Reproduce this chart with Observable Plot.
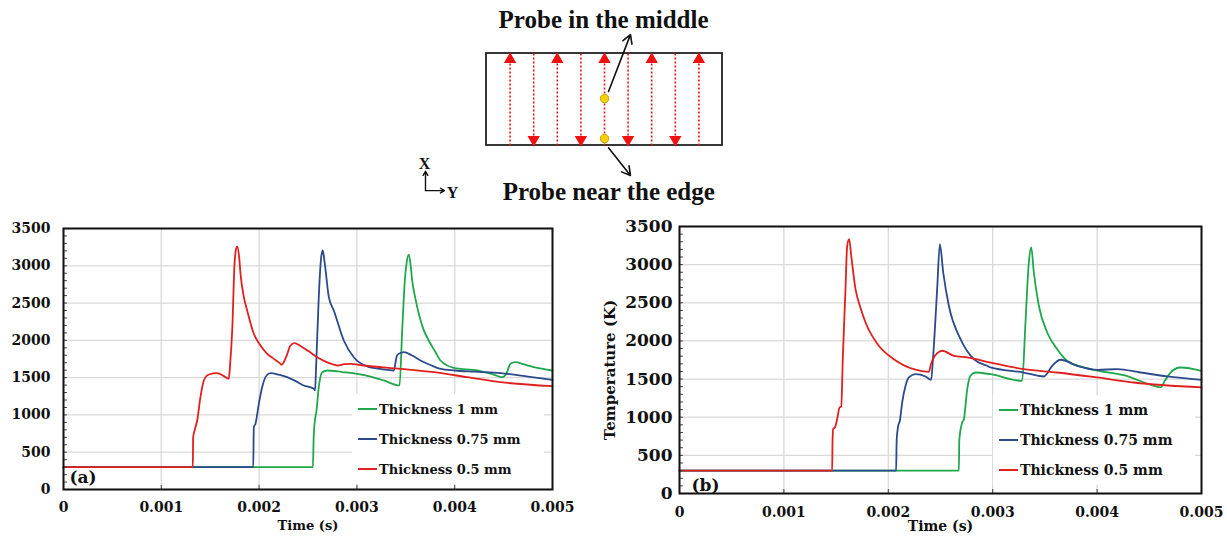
<!DOCTYPE html>
<html>
<head>
<meta charset="utf-8">
<script src="https://cdn.jsdelivr.net/npm/d3@7"></script>
<script src="https://cdn.jsdelivr.net/npm/@observablehq/plot@0.6"></script>
<style>
  html, body { margin: 0; padding: 0; background: #fff; }
  #root { position: relative; width: 1227px; height: 536px; overflow: hidden; background: #fff; }
  .legend { position: absolute; background: #fff; font-family: "DejaVu Serif", serif; font-weight: bold; color: #111; }
  .legend .row { display: flex; align-items: center; height: 30px; white-space: nowrap; }
  .legend .sw { display: inline-block; width: 19px; height: 2px; margin-right: 2px; }
</style>
</head>
<body>
<div id="root"></div>
<script>
// ---------------- data ----------------
const seriesNames  = ["Thickness 1 mm", "Thickness 0.75 mm", "Thickness 0.5 mm"];
const seriesColors = ["#1fa84b", "#2b4a8b", "#e0201f"];

const xTicks = [0, 0.001, 0.002, 0.003, 0.004, 0.005];
const xTickLabels = ["0", "0.001", "0.002", "0.003", "0.004", "0.005"];
const yTicks = [0, 500, 1000, 1500, 2000, 2500, 3000, 3500];
const yTickLabels = ["0", "500", "1000", "1500", "2000", "2500", "3000", "3500"];
const yMinorTicks = d3.range(0, 3501, 100);

// Panel (a): probe in the middle — time in ms, temperature in K
const aTime1 = [0, 2.550, 2.558, 2.567, 2.587, 2.610, 2.645, 2.696, 2.850, 3.003, 3.150, 3.275, 3.436, 3.463, 3.490, 3.507, 3.531, 3.550, 3.565, 3.600, 3.633, 3.680, 3.735, 3.800, 3.855, 3.990, 4.230, 4.400, 4.486, 4.530, 4.570, 4.622, 4.700, 4.809, 5.000];
const aTemp1 = [300, 300, 700, 881, 1059, 1372, 1573, 1596, 1575, 1551, 1510, 1462, 1395, 2132, 2800, 3027, 3151, 3000, 2803, 2550, 2356, 2150, 1998, 1850, 1730, 1632, 1596, 1540, 1506, 1560, 1685, 1707, 1680, 1640, 1596];

const aTime075 = [0, 1.940, 1.946, 1.963, 1.997, 2.031, 2.076, 2.117, 2.200, 2.287, 2.380, 2.457, 2.560, 2.572, 2.584, 2.610, 2.635, 2.651, 2.672, 2.713, 2.764, 2.866, 2.968, 3.105, 3.250, 3.377, 3.410, 3.446, 3.480, 3.560, 3.650, 3.750, 3.855, 4.000, 4.200, 4.470, 4.750, 5.000];
const aTemp075 = [300, 300, 836, 881, 1149, 1372, 1529, 1560, 1540, 1506, 1450, 1395, 1350, 1328, 1685, 2579, 3115, 3205, 3027, 2579, 2400, 1998, 1774, 1650, 1615, 1596, 1797, 1830, 1841, 1800, 1730, 1670, 1618, 1596, 1580, 1560, 1515, 1471];

const aTime05 = [0, 1.322, 1.326, 1.340, 1.367, 1.400, 1.435, 1.486, 1.571, 1.640, 1.690, 1.705, 1.725, 1.749, 1.765, 1.776, 1.796, 1.810, 1.844, 1.878, 1.946, 2.014, 2.083, 2.151, 2.219, 2.230, 2.280, 2.321, 2.362, 2.423, 2.500, 2.594, 2.680, 2.764, 2.800, 2.870, 2.935, 3.070, 3.446, 3.786, 4.128, 4.468, 5.000];
const aTemp05 = [300, 300, 700, 791, 925, 1238, 1462, 1542, 1560, 1520, 1484, 1700, 2132, 3027, 3230, 3259, 3115, 2892, 2579, 2400, 2088, 1931, 1820, 1752, 1685, 1672, 1790, 1931, 1962, 1925, 1860, 1774, 1715, 1676, 1663, 1680, 1685, 1663, 1618, 1573, 1506, 1439, 1386];

// Panel (b): probe near the edge
const bTime1 = [0, 2.676, 2.680, 2.708, 2.724, 2.756, 2.787, 2.835, 2.979, 3.282, 3.314, 3.346, 3.369, 3.394, 3.442, 3.522, 3.618, 3.714, 3.937, 4.256, 4.543, 4.607, 4.650, 4.703, 4.799, 5.000];
const bTemp1 = [300, 300, 700, 931, 974, 1367, 1543, 1586, 1564, 1477, 2242, 3028, 3225, 2897, 2461, 2111, 1892, 1740, 1630, 1551, 1412, 1390, 1480, 1586, 1652, 1608];

const bTime075 = [0, 2.075, 2.080, 2.095, 2.110, 2.133, 2.165, 2.197, 2.261, 2.356, 2.410, 2.430, 2.468, 2.494, 2.526, 2.580, 2.692, 2.819, 2.947, 2.979, 3.298, 3.490, 3.570, 3.649, 3.809, 4.000, 4.193, 4.416, 4.671, 5.000];
const bTemp075 = [300, 300, 700, 887, 950, 1193, 1412, 1521, 1564, 1534, 1490, 1805, 2679, 3269, 2897, 2461, 2023, 1761, 1674, 1652, 1586, 1534, 1674, 1753, 1674, 1621, 1630, 1586, 1534, 1490];

const bTime05 = [0, 1.462, 1.466, 1.472, 1.490, 1.510, 1.533, 1.549, 1.565, 1.590, 1.606, 1.625, 1.645, 1.686, 1.730, 1.782, 1.909, 2.053, 2.244, 2.388, 2.410, 2.436, 2.470, 2.516, 2.628, 2.756, 2.979, 3.298, 3.618, 4.000, 4.352, 5.000];
const bTemp05 = [300, 300, 700, 843, 870, 974, 1127, 1140, 1805, 2679, 3247, 3334, 3116, 2679, 2450, 2242, 1936, 1761, 1629, 1595, 1700, 1783, 1840, 1871, 1805, 1783, 1717, 1629, 1586, 1521, 1455, 1390];

// Schematic (plate units: 10 wide, 4 tall)
const plate = [{x1: 0, x2: 10, y1: 0, y2: 4}];
const passX = [1, 2, 3, 4, 5, 6, 7, 8, 9];
const passDir = ["up", "down", "up", "down", "up", "down", "up", "down", "up"];
const probes = [{x: 5, y: 2.04}, {x: 5, y: 0.3}];
const leaders = [
  {x1: 5.17, y1: 2.35, x2: 6.1, y2: 4.82},
  {x1: 5.17, y1: -0.1, x2: 6.1, y2: -1.3}
];
const probeLabels = [
  {x: 4.96, y: 5.45, text: "Probe in the middle"},
  {x: 5.18, y: -2.0, text: "Probe near the edge"}
];
const axisArrows = [
  {x1: -2.585, y1: -1.96, x2: -2.585, y2: -1.12},
  {x1: -2.585, y1: -1.96, x2: -1.78, y2: -1.96}
];
const axisLetters = [
  {x: -2.63, y: -0.8, text: "X"},
  {x: -1.44, y: -2.04, text: "Y"}
];

// ---------------- build ----------------
const root = document.getElementById("root");

function rows(times, temps, name) {
  return times.map((t, i) => ({t: t * 0.001, T: temps[i], series: name}));
}

function place(el, left, top) {
  el.style.position = "absolute";
  el.style.left = left + "px";
  el.style.top = top + "px";
  el.style.maxWidth = "none";
  root.appendChild(el);
}

// Schematic
const passes = passX.map((x, i) => ({x, dir: passDir[i]}));
const schematic = Plot.plot({
  width: 1227, height: 210,
  marginLeft: 0, marginRight: 0, marginTop: 0, marginBottom: 0,
  x: {type: "linear", domain: [0, 10], range: [486, 722], axis: null},
  y: {type: "linear", domain: [0, 4], range: [145, 53], axis: null},
  style: {background: "transparent", fontFamily: "Liberation Serif", overflow: "visible"},
  marks: [
    Plot.rect(plate, {x1: "x1", x2: "x2", y1: "y1", y2: "y2", fill: "white", stroke: "#222", strokeWidth: 1.8}),
    Plot.link(passes, {x1: "x", x2: "x", y1: d => d.dir === "up" ? 0 : 4, y2: d => d.dir === "up" ? 3.7 : 0.3,
      stroke: "#f01010", strokeWidth: 1.6, strokeDasharray: "2,2"}),
    Plot.dot(passes, {x: "x", y: d => d.dir === "up" ? 3.74 : 0.26, symbol: "triangle", r: 4.6,
      rotate: d => d.dir === "up" ? 0 : 180, fill: "#f01010", stroke: "none"}),
    Plot.dot(probes, {x: "x", y: "y", r: 4.2, fill: "#f5d20a", stroke: "#c9a000", strokeWidth: 1}),
    Plot.arrow(leaders, {x1: "x1", y1: "y1", x2: "x2", y2: "y2", stroke: "#111", strokeWidth: 1.6, headLength: 9}),
    Plot.text(probeLabels, {x: "x", y: "y", text: "text", fontSize: 25, fontWeight: "bold", fill: "#111"}),
    Plot.arrow(axisArrows, {x1: "x1", y1: "y1", x2: "x2", y2: "y2", stroke: "#111", strokeWidth: 1.4, headLength: 5}),
    Plot.text(axisLetters, {x: "x", y: "y", text: "text", fontSize: 16, fontWeight: "bold", fill: "#111"})
  ]
});
place(schematic, 0, 0);

function chart(cfg) {
  const data = [
    ...rows(cfg.t1, cfg.T1, seriesNames[0]),
    ...rows(cfg.t075, cfg.T075, seriesNames[1]),
    ...rows(cfg.t05, cfg.T05, seriesNames[2])
  ];
  const marks = [
    Plot.gridX(xTicks, {stroke: "#d9d9d9", strokeOpacity: 1, strokeWidth: 1.3}),
    Plot.gridY(yTicks, {stroke: "#d9d9d9", strokeOpacity: 1, strokeWidth: 1.3}),
    Plot.line(data, {x: "t", y: "T", z: "series", stroke: "series", strokeWidth: 1.8, curve: "monotone-x"}),
    Plot.axisY(yMinorTicks, {anchor: "left", tickSize: -4, tickFormat: () => "", stroke: "#444", label: null}),
    Plot.axisX(xTicks, {anchor: "bottom", tickSize: -4, tickFormat: () => "", stroke: "#444", label: null}),
    Plot.frame({stroke: "#111", strokeWidth: 2}),
    Plot.axisY(yTicks, {anchor: "left", tickSize: 0, tickPadding: cfg.yPad, fontSize: cfg.yFont, fill: "#111",
      tickFormat: d => yTickLabels[yTicks.indexOf(d)], label: null}),
    Plot.axisX(xTicks, {anchor: "bottom", tickSize: 0, tickPadding: cfg.xPad, fontSize: cfg.xFont, fill: "#111",
      tickFormat: d => xTickLabels[xTicks.indexOf(d)], label: null}),
    Plot.text(["Time (s)"], {frameAnchor: "bottom", dy: cfg.xLabelDy, textAnchor: "middle", lineAnchor: "middle", fontSize: cfg.xLabelFont, fill: "#111"}),
    Plot.text([cfg.tag], {frameAnchor: "bottom-left", dx: cfg.tagDx, dy: cfg.tagDy, textAnchor: "start", lineAnchor: "middle", fontSize: 17, fill: "#111"})
  ];
  if (cfg.yLabel) {
    marks.push(Plot.text([cfg.yLabel], {frameAnchor: "left", dx: cfg.yLabelDx, dy: cfg.yLabelDy, rotate: -90,
      textAnchor: "middle", lineAnchor: "middle", fontSize: 15, fill: "#111"}));
  }
  return Plot.plot({
    width: cfg.width, height: 326,
    marginLeft: cfg.ml, marginRight: cfg.mr, marginTop: cfg.mt, marginBottom: cfg.mb,
    x: {domain: [0, 0.005], label: null},
    y: {domain: [0, 3500], label: null},
    color: {domain: seriesNames, range: seriesColors},
    style: {fontFamily: "DejaVu Serif", fontWeight: "bold", background: "white", overflow: "visible"},
    marks
  });
}

const chartA = chart({
  width: 600, ml: 63, mr: 48, mt: 18, mb: 47,
  t1: aTime1, T1: aTemp1, t075: aTime075, T075: aTemp075, t05: aTime05, T05: aTemp05,
  yPad: 13, yFont: 14, xPad: 13, xFont: 14, xLabelDy: 36, xLabelFont: 13,
  tag: "(a)", tagDx: 6, tagDy: -12
});
place(chartA, 0, 210);

const chartB = chart({
  width: 627, ml: 79, mr: 26, mt: 16, mb: 43,
  t1: bTime1, T1: bTemp1, t075: bTime075, T075: bTemp075, t05: bTime05, T05: bTemp05,
  yPad: 7, yFont: 17, xPad: 14, xFont: 14, xLabelDy: 33, xLabelFont: 14,
  tag: "(b)", tagDx: 12, tagDy: -8,
  yLabel: "Temperature (K)", yLabelDx: -69, yLabelDy: 10
});
place(chartB, 600, 210);

// Legends
function legend(left, top, width, fontSize) {
  const div = document.createElement("div");
  div.className = "legend";
  div.style.left = left + "px";
  div.style.top = top + "px";
  div.style.width = width + "px";
  div.style.fontSize = fontSize + "px";
  seriesNames.forEach((name, i) => {
    const row = document.createElement("div");
    row.className = "row";
    const sw = document.createElement("span");
    sw.className = "sw";
    sw.style.background = seriesColors[i];
    const tx = document.createElement("span");
    tx.textContent = name;
    row.appendChild(sw);
    row.appendChild(tx);
    div.appendChild(row);
  });
  div.style.paddingLeft = "6px";
  root.appendChild(div);
}
legend(352, 394, 186, 13);
legend(993, 395, 196, 14);
</script>
</body>
</html>
